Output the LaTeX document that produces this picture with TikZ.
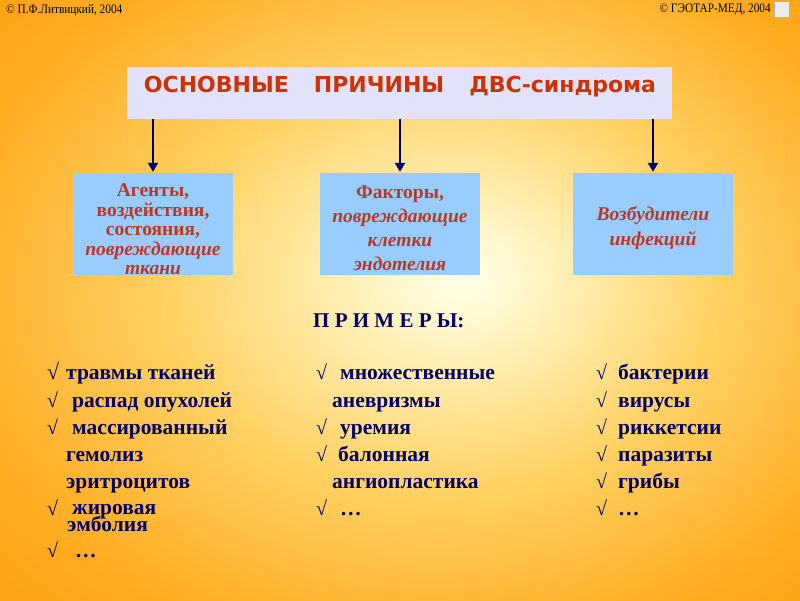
\documentclass[tikz,border=0pt]{standalone}
\usepackage{fontspec}
\setmainfont{Liberation Serif}
\newfontfamily\titlef{DejaVu Sans}
\newfontfamily\narrowf[FakeStretch=0.87]{Liberation Serif}
\usetikzlibrary{arrows.meta}
\definecolor{navy}{RGB}{0,0,102}
\definecolor{titlered}{RGB}{204,51,0}
\definecolor{boxred}{RGB}{190,55,30}
\definecolor{lav}{RGB}{226,226,250}
\definecolor{lblue}{RGB}{153,204,255}
\definecolor{bgc0}{RGB}{255,255,232}
\definecolor{bgc1}{RGB}{255,244,196}
\definecolor{bgc2}{RGB}{255,210,100}
\definecolor{bgc3}{RGB}{255,170,30}
\definecolor{bgc4}{RGB}{255,153,0}
\pgfdeclareradialshading{bgshade}{\pgfpoint{4bp}{2bp}}{color(0bp)=(bgc0); color(5bp)=(bgc1); color(17bp)=(bgc2); color(31bp)=(bgc3); color(45bp)=(bgc4); color(50bp)=(bgc4)}
\tikzset{
  titlebox/.style={fill=lav, draw=none, minimum width=545pt, minimum height=52pt, inner sep=0pt},
  titletext/.style={text=titlered, font=\titlef\bfseries\fontsize{22}{24}\selectfont, inner sep=0pt},
  bluebox/.style={fill=lblue, draw=none, minimum width=160pt, minimum height=102pt, inner sep=0pt},
  boxtext/.style={text=boxred, font=\bfseries\fontsize{19.5}{19.5}\selectfont, align=center, inner sep=0pt},
  arr/.style={draw=navy, line width=2.4pt, -{Triangle[width=10pt,length=9pt]}, shorten >=1pt},
  item/.style={text=navy, font=\bfseries\fontsize{21.5}{24}\selectfont, anchor=base west, inner sep=0pt},
  chk/.style={text=navy, font=\fontsize{20}{24}\selectfont, anchor=base west, inner sep=0pt},
  copyr/.style={text=black, font=\narrowf\fontsize{13}{14}\selectfont, inner sep=0pt}
}
\begin{document}
\begin{tikzpicture}[x=1pt,y=-1pt]
\useasboundingbox (0,0) rectangle (800,600);
\shade[shading=bgshade] (0,0) rectangle (800,600);
% header
\node[copyr, anchor=west] (cl) at (6,10) {© П.Ф.Литвицкий, 2004};
\node[copyr, anchor=east] (cr) at (771,10) {© ГЭОТАР-МЕД, 2004};
\node[fill=white!85!gray, draw=gray!60, minimum width=15pt, minimum height=16pt, inner sep=0pt] (icon) at (782,9) {};
% title
\node[titlebox, anchor=north west] (title) at (127,67) {};
\node[titletext] (tt) at (400,87) {ОСНОВНЫЕ\hspace{25pt}ПРИЧИНЫ\hspace{25pt}ДВС-синдрома};
% boxes
\node[bluebox] (b1) at (153,224) {};
\node[bluebox] (b2) at (400,224) {};
\node[bluebox] (b3) at (653,224) {};
\node[boxtext] (t1) at (153,229.5) {Агенты,\\воздействия,\\состояния,\\\itshape повреждающие\\\itshape ткани};
\node[boxtext, font=\bfseries\fontsize{19.5}{24}\selectfont] (t2) at (400,228) {Факторы,\\\itshape повреждающие\\\itshape клетки\\\itshape эндотелия};
\node[boxtext, font=\bfseries\itshape\fontsize{19.5}{25}\selectfont] (t3) at (653,228) {Возбудители\\инфекций};
% arrows
\draw[arr] (title.south -| b1.north) -- (b1.north);
\draw[arr] (title.south -| b2.north) -- (b2.north);
\draw[arr] (title.south -| b3.north) -- (b3.north);
% examples
\node[item, font=\bfseries\fontsize{21}{24}\selectfont] (ex) at (313,327) {П Р И М Е Р Ы:};
% left column
\node[item, font=\bfseries\fontsize{22}{24}\selectfont] (lc1) at (47,379) {√};
\node[item] (l1) at (66,379) {травмы тканей};
\node[chk] (lc2) at (47,407) {√};
\node[item] (l2) at (72,407) {распад опухолей};
\node[chk] (lc3) at (47,434) {√};
\node[item] (l3) at (72,434) {массированный};
\node[item] (l4) at (66,461) {гемолиз};
\node[item] (l5) at (66,488) {эритроцитов};
\node[chk] (lc6) at (47,515) {√};
\node[item] (l6) at (72,514) {жировая};
\node[item] (l7) at (67,531) {эмболия};
\node[chk] (lc8) at (47,557) {√};
\node[item] (l8) at (75,557) {…};
% middle column
\node[chk] (mc1) at (316,379) {√};
\node[item] (m1) at (340,379) {множественные};
\node[item] (m2) at (332,407) {аневризмы};
\node[chk] (mc3) at (316,434) {√};
\node[item] (m3) at (340,434) {уремия};
\node[chk] (mc4) at (316,461) {√};
\node[item] (m4) at (338,461) {балонная};
\node[item] (m5) at (332,488) {ангиопластика};
\node[chk] (mc6) at (316,515) {√};
\node[item] (m6) at (340,515) {…};
% right column
\node[chk] (rc1) at (596,379) {√};
\node[item] (r1) at (618,379) {бактерии};
\node[chk] (rc2) at (596,407) {√};
\node[item] (r2) at (618,407) {вирусы};
\node[chk] (rc3) at (596,434) {√};
\node[item] (r3) at (618,434) {риккетсии};
\node[chk] (rc4) at (596,461) {√};
\node[item] (r4) at (618,461) {паразиты};
\node[chk] (rc5) at (596,488) {√};
\node[item] (r5) at (618,488) {грибы};
\node[chk] (rc6) at (596,515) {√};
\node[item] (r6) at (618,515) {…};
\end{tikzpicture}
\end{document}
